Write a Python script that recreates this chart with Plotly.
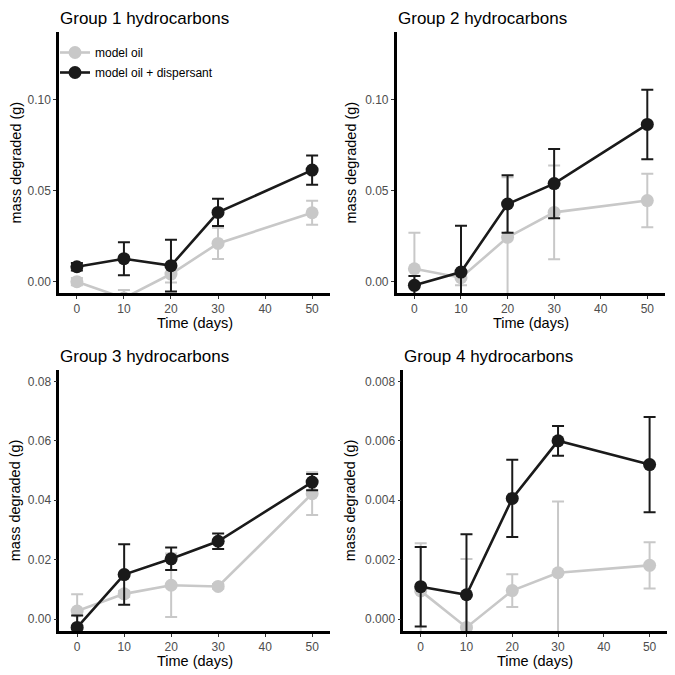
import plotly.graph_objects as go

# sampling days
days = [0, 10, 20, 30, 50]

# Group 1
g1_oil = [0.000, -0.009, 0.0042, 0.021, 0.0378]
g1_oil_err = [0.002, 0.0044, 0.0047, 0.0086, 0.0066]
g1_disp = [0.0082, 0.0126, 0.0088, 0.038, 0.0612]
g1_disp_err = [0.002, 0.009, 0.0142, 0.0075, 0.008]

# Group 2
g2_oil = [0.0071, 0.0022, 0.0243, 0.038, 0.0445]
g2_oil_err = [0.0198, 0.0042, 0.033, 0.0257, 0.0147]
g2_disp = [-0.002, 0.0053, 0.0426, 0.0538, 0.0862]
g2_disp_err = [0.0051, 0.0254, 0.0158, 0.019, 0.019]

# Group 3
g3_oil = [0.0027, 0.0085, 0.0114, 0.011, 0.0422]
g3_oil_err = [0.0057, 0.001, 0.0107, 0.0008, 0.0072]
g3_disp = [-0.0028, 0.015, 0.0203, 0.0262, 0.0461]
g3_disp_err = [0.004, 0.0102, 0.0038, 0.0026, 0.0027]

# Group 4
g4_oil = [0.00095, -0.00028, 0.00096, 0.00156, 0.00181]
g4_oil_err = [0.0016, 0.0023, 0.00055, 0.0024, 0.00078]
g4_disp = [0.00109, 0.00082, 0.00406, 0.0060, 0.0052]
g4_disp_err = [0.00134, 0.00204, 0.0013, 0.0005, 0.0016]

titles = ['Group 1 hydrocarbons', 'Group 2 hydrocarbons',
          'Group 3 hydrocarbons', 'Group 4 hydrocarbons']
series_names = ['model oil', 'model oil + dispersant']

GREY = '#c8c8c8'
BLACK = '#1a1a1a'
FONT = 'Liberation Sans, Arial, sans-serif'

# the page body has an 8px margin, so the figure is drawn 8px smaller
# and the page-pixel positions below are shifted by that offset
OFF = 8
W = 675 - OFF

panels = [
    (g1_oil, g1_oil_err, g1_disp, g1_disp_err),
    (g2_oil, g2_oil_err, g2_disp, g2_disp_err),
    (g3_oil, g3_oil_err, g3_disp, g3_disp_err),
    (g4_oil, g4_oil_err, g4_disp, g4_disp_err),
]

# plot areas in page pixels: (left, right, top, bottom)
boxes = [(59, 330, 32, 293), (396.7, 665, 32, 293),
         (59.3, 330, 369.5, 631), (403.3, 667, 369.5, 631)]
y_ranges = [[-0.0062, 0.1369], [-0.0062, 0.1369], [-0.004, 0.084], [-0.0004, 0.0084]]
y_ticks = [[0, 0.05, 0.10], [0, 0.05, 0.10], [0, 0.02, 0.04, 0.06, 0.08],
           [0, 0.002, 0.004, 0.006, 0.008]]
y_fmt = ['.2f', '.2f', '.2f', '.3f']
ytitle_x = [15, 350, 15, 350]


def px(v):
    return (v - OFF) / W


fig = go.Figure()

for i, (oil, oil_err, disp, disp_err) in enumerate(panels):
    ax = '' if i == 0 else str(i + 1)
    for name, grp, vals, errs, col in [(series_names[0], 'oil', oil, oil_err, GREY),
                                       (series_names[1], 'disp', disp, disp_err, BLACK)]:
        fig.add_trace(go.Scatter(
            x=days, y=vals, name=name, mode='lines+markers',
            legendgroup=grp,
            line=dict(color=col, width=2.6),
            marker=dict(color=col, size=13),
            error_y=dict(type='data', array=errs, color=col, thickness=2, width=6),
            showlegend=(i == 0),
            xaxis='x' + ax, yaxis='y' + ax))

    l, r, t, b = boxes[i]
    axis_common = dict(showline=True, linecolor='black', linewidth=2.5,
                       ticks='outside', ticklen=3, tickcolor='#333333', tickwidth=1,
                       showgrid=False, zeroline=False,
                       tickfont=dict(size=12, color='#4d4d4d'))
    fig.layout['xaxis' + ax] = dict(
        axis_common, domain=[px(l), px(r)], anchor='y' + ax,
        range=[-3.8, 53.8], tickvals=[0, 10, 20, 30, 40, 50])
    fig.layout['yaxis' + ax] = dict(
        axis_common, domain=[1 - px(b), 1 - px(t)], anchor='x' + ax,
        range=y_ranges[i], tickvals=y_ticks[i], tickformat=y_fmt[i])

    # panel title
    fig.add_annotation(text=titles[i], x=px(l), y=1 - px(t - 13.5),
                       xref='paper', yref='paper', xanchor='left', yanchor='middle',
                       borderpad=0, showarrow=False, font=dict(size=17, color='black'))
    # axis titles
    fig.add_annotation(text='Time (days)', x=px((l + r) / 2), y=1 - px(b + 30),
                       xref='paper', yref='paper', xanchor='center', yanchor='middle',
                       borderpad=0, showarrow=False, font=dict(size=14.5, color='black'))
    fig.add_annotation(text='mass degraded (g)', x=px(ytitle_x[i]), y=1 - px((t + b) / 2),
                       xref='paper', yref='paper', xanchor='center', yanchor='middle',
                       textangle=-90, borderpad=0, showarrow=False,
                       font=dict(size=14.5, color='black'))

fig.update_layout(
    width=W, height=W,
    margin=dict(l=0, r=0, t=0, b=0),
    paper_bgcolor='white', plot_bgcolor='white',
    font=dict(family=FONT, color='black'),
    legend=dict(x=px(55), y=1 - px(38), xanchor='left', yanchor='top',
                bgcolor='rgba(0,0,0,0)', font=dict(size=12), tracegroupgap=1),
)

fig.write_html("out.html")
